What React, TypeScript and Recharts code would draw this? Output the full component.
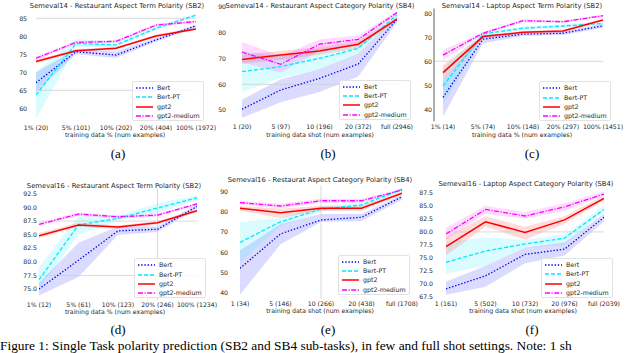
import { ComposedChart, Line, Area, XAxis, YAxis, ReferenceLine } from 'recharts'

const W = 640
const H = 353
const FONT = 'DejaVu Sans'
const FS = 6.2

const SERIES = [
  { key: 'bert', name: 'Bert', color: '#0000ff', dash: '1.4 1.8', width: 1.3 },
  { key: 'bertPt', name: 'Bert-PT', color: '#00e8ff', dash: '4 2', width: 1.3 },
  { key: 'gpt2', name: 'gpt2', color: '#ff0000', dash: undefined, width: 1.5 },
  { key: 'gpt2m', name: 'gpt2-medium', color: '#ff00ff', dash: '5 1.5 1.2 1.5', width: 1.3 },
]

// (a) Semeval14 restaurant term
const aTicks = ['1% (20)', '5% (101)', '10% (202)', '20% (404)', '100% (1972)']
const aBert = [67.1, 75.7, 74.8, 79.0, 82.9]
const aBertPt = [63.7, 78.0, 77.6, 82.2, 85.9]
const aGpt2 = [73.0, 76.0, 76.7, 80.1, 82.0]
const aGpt2m = [73.9, 78.3, 78.6, 83.1, 84.1]
const aBertBand = [[64.5, 70], [75, 76.5], [74, 75.8], [78.5, 79.5], [82.5, 83.3]]
const aBertPtBand = [[57, 70], [77, 79.3], [77, 78.3], [81.7, 82.7], [85.5, 86.3]]
const aGpt2Band = [[72.5, 73.5], [75.6, 76.4], [76.3, 77.1], [79.7, 80.5], [81.7, 82.3]]
const aGpt2mBand = [[73.4, 74.4], [77.9, 78.7], [78.2, 79], [82.7, 83.5], [83.7, 84.5]]

// (b) Semeval14 restaurant category
const bTicks = ['1 (20)', '5 (97)', '10 (196)', '20 (372)', 'full (2946)']
const bBert = [50.3, 57.8, 62.3, 67.9, 85.3]
const bBertPt = [64.9, 66.9, 70.1, 74.0, 87.0]
const bGpt2 = [69.7, 71.4, 73.0, 75.6, 85.4]
const bGpt2m = [72.5, 67.8, 75.6, 77.5, 87.9]
const bBertBand = [[47, 54], [53, 62], [57, 66], [63, 72], [84, 86.5]]
const bBertPtBand = [[57, 73], [62.5, 71], [66, 74], [72, 76], [86, 88]]
const bGpt2Band = [[68, 71.5], [69.5, 73], [71.5, 74.5], [74, 77], [84.8, 86]]
const bGpt2mBand = [[68.5, 76.5], [64.5, 71], [73, 77.5], [76, 79], [87.3, 88.5]]

// (c) Semeval14 laptop term
const cTicks = ['1% (14)', '5% (74)', '10% (148)', '20% (297)', '100% (1451)']
const cBert = [45.0, 69.2, 71.3, 71.7, 74.8]
const cBertPt = [49.7, 71.4, 73.8, 74.7, 75.8]
const cGpt2 = [55.3, 70.3, 72.1, 72.6, 77.2]
const cGpt2m = [62.6, 71.7, 76.9, 76.5, 79.0]
const cBertBand = [[37, 52], [67.5, 71], [70.5, 72], [71, 72.5], [74, 75.6]]
const cBertPtBand = [[42, 57], [70.5, 72.3], [73, 74.5], [74, 75.4], [75.3, 76.3]]
const cGpt2Band = [[52, 58.5], [69.5, 71], [71.5, 72.7], [72, 73.2], [76.7, 77.7]]
const cGpt2mBand = [[60.5, 64.7], [71.2, 72.2], [76.3, 77.5], [76, 77], [78.6, 79.4]]

// (d) Semeval16 restaurant term
const dTicks = ['1% (12)', '5% (61)', '10% (123)', '20% (246)', '100% (1234)']
const dBert = [75.0, 80.3, 85.7, 86.0, 90.2]
const dBertPt = [76.7, 86.8, 88.0, 89.9, 91.8]
const dGpt2 = [84.8, 86.8, 86.4, 87.2, 89.4]
const dGpt2m = [86.9, 88.8, 88.3, 88.6, 90.65]
const dBertBand = [[73.8, 76.2], [77.2, 83.5], [85, 86.5], [85.5, 86.5], [89.8, 90.6]]
const dBertPtBand = [[75, 79], [85, 88.5], [87.5, 88.5], [89, 90.8], [91.4, 92.2]]
const dGpt2Band = [[84.4, 85.3], [86.4, 87.2], [86.1, 86.7], [86.9, 87.5], [89.1, 89.7]]
const dGpt2mBand = [[86.6, 87.2], [88.5, 89.1], [88, 88.6], [88.3, 88.9], [90.4, 90.9]]

// (e) Semeval16 restaurant category
const eTicks = ['1 (34)', '5 (146)', '10 (266)', '20 (438)', 'full (1708)']
const eBert = [52.1, 69.1, 76.0, 77.3, 87.5]
const eBertPt = [64.9, 75.1, 81.3, 83.4, 91.2]
const eGpt2 = [81.8, 79.6, 81.8, 81.8, 89.2]
const eGpt2m = [84.6, 82.9, 85.5, 85.5, 90.8]
const eBertBand = [[39, 61], [64, 74], [75, 79], [75.5, 79], [86, 88.5]]
const eBertPtBand = [[55, 75], [73, 77], [80, 83], [82, 84.5], [90.5, 91.8]]
const eGpt2Band = [[80.5, 83], [77, 81.5], [80.5, 83], [80.5, 83], [88.5, 90]]
const eGpt2mBand = [[83.6, 85.6], [81.8, 84], [84.5, 86.5], [84.5, 86.5], [90.2, 91.4]]

// (f) Semeval16 laptop category
const fTicks = ['1 (161)', '5 (502)', '10 (732)', '20 (976)', 'full (2039)']
const fBert = [69.1, 71.6, 75.7, 76.7, 82.8]
const fBertPt = [74.2, 76.35, 77.7, 78.8, 84.3]
const fGpt2 = [77.2, 81.95, 79.9, 82.3, 86.4]
const fGpt2m = [79.6, 84.3, 83.05, 84.8, 87.25]
const fBertBand = [[68, 70.5], [69.5, 73.5], [74, 77], [75.5, 78], [82, 83.5]]
const fBertPtBand = [[72, 78], [73.5, 79], [77, 78.5], [77.5, 79.5], [84, 85]]
const fGpt2Band = [[75.5, 79], [81, 83], [78.5, 81], [81.5, 83], [86, 87]]
const fGpt2mBand = [[78.5, 80.8], [83.5, 85], [82.5, 83.8], [84, 85.5], [87, 87.8]]

const PCT = 'training data % (num examples)'
const SHOT = 'training data shot (num examples)'
const CAPTION =
  'Figure 1: Single Task polarity prediction (SB2 and SB4 sub-tasks), in few and full shot settings. Note: 1 sh'

const panels = [
  {
    title: 'Semeval14 - Restaurant Aspect Term Polarity (SB2)', titleX: 117, titleY: 6,
    xlabel: PCT, xlabelX: 115, xlabelY: 135, tag: '(a)', tagX: 118, tagY: 154,
    ticks: aTicks, vals: [aBert, aBertPt, aGpt2, aGpt2m], bands: [aBertBand, aBertPtBand, aGpt2Band, aGpt2mBand],
    left: 36, right: 196, top: 11.1, bottom: 122.7, xDomain: [0, 4], yDomain: [56, 87],
    yTicks: [60, 65, 70, 75, 80, 85], yLabelRight: 27, tickY: 128, dec: 0,
    hRefs: [85, 65], vRefs: [], spine: false, legX: 136, legY: 87,
  },
  {
    title: 'Semeval14 - Restaurant Aspect Category Polarity (SB4)', titleX: 320, titleY: 6,
    xlabel: SHOT, xlabelX: 320, xlabelY: 135, tag: '(b)', tagX: 328, tagY: 154,
    ticks: bTicks, vals: [bBert, bBertPt, bGpt2, bGpt2m], bands: [bBertBand, bBertPtBand, bGpt2Band, bGpt2mBand],
    left: 242, right: 397, top: 2.06, bottom: 120.3, xDomain: [0, 4], yDomain: [46, 92],
    yTicks: [50, 60, 70, 80, 90], yLabelRight: 226, tickY: 126.7, dec: 0,
    hRefs: [60], vRefs: [], spine: false, legX: 343, legY: 85.7,
  },
  {
    title: 'Semeval14 - Laptop Aspect Term Polarity (SB2)', titleX: 522, titleY: 6,
    xlabel: PCT, xlabelX: 522, xlabelY: 135, tag: '(c)', tagX: 532, tagY: 154,
    ticks: cTicks, vals: [cBert, cBertPt, cGpt2, cGpt2m], bands: [cBertBand, cBertPtBand, cGpt2Band, cGpt2mBand],
    left: 434, right: 603, top: 8.5, bottom: 121.3, xDomain: [-0.225, 4], yDomain: [35, 82],
    yTicks: [40, 50, 60, 70, 80], yLabelRight: 432, tickY: 126.7, dec: 0,
    hRefs: [60], vRefs: [], spine: true, legX: 543, legY: 87.3,
  },
  {
    title: 'Semeval16 - Restaurant Aspect Term Polarity (SB2)', titleX: 114, titleY: 185.7,
    xlabel: PCT, xlabelX: 115, xlabelY: 311.7, tag: '(d)', tagX: 118, tagY: 330,
    ticks: dTicks, vals: [dBert, dBertPt, dGpt2, dGpt2m], bands: [dBertBand, dBertPtBand, dGpt2Band, dGpt2mBand],
    left: 39, right: 197, top: 188.5, bottom: 299.9, xDomain: [0, 4], yDomain: [73, 93.5],
    yTicks: [75, 77.5, 80, 82.5, 85, 87.5, 90, 92.5], yLabelRight: 37, tickY: 305, dec: 1,
    hRefs: [87.5, 77.5], vRefs: [3], spine: false, legX: 138, legY: 264.3,
  },
  {
    title: 'Semeval16 - Restaurat Aspect Category Polarity (SB4)', titleX: 320, titleY: 180,
    xlabel: SHOT, xlabelX: 320, xlabelY: 310.7, tag: '(e)', tagX: 328, tagY: 330,
    ticks: eTicks, vals: [eBert, eBertPt, eGpt2, eGpt2m], bands: [eBertBand, eBertPtBand, eGpt2Band, eGpt2mBand],
    left: 240, right: 402, top: 185.6, bottom: 298.8, xDomain: [0, 4], yDomain: [37, 93],
    yTicks: [40, 50, 60, 70, 80, 90], yLabelRight: 228, tickY: 303.3, dec: 0,
    hRefs: [], vRefs: [2], spine: false, legX: 342, legY: 260.7,
  },
  {
    title: 'Semeval16 - Laptop Aspect Category Polarity (SB4)', titleX: 526, titleY: 184,
    xlabel: SHOT, xlabelX: 523, xlabelY: 311, tag: '(f)', tagX: 532, tagY: 330,
    ticks: fTicks, vals: [fBert, fBertPt, fGpt2, fGpt2m], bands: [fBertBand, fBertPtBand, fGpt2Band, fGpt2mBand],
    left: 446, right: 604, top: 187.5, bottom: 299.9, xDomain: [0, 4], yDomain: [67, 88.5],
    yTicks: [67.5, 70, 72.5, 75, 77.5, 80, 82.5, 85, 87.5], yLabelRight: 433, tickY: 304, dec: 1,
    hRefs: [80], vRefs: [], spine: false, legX: 545, legY: 264,
  },
]

type P = (typeof panels)[number]

function Panel({ p }: { p: P }) {
  const rows = p.ticks.map((t, i) => {
    const r: Record<string, unknown> = { i, label: t }
    SERIES.forEach((s, k) => {
      r[s.key] = p.vals[k][i]
      r[s.key + 'Band'] = p.bands[k][i]
    })
    return r
  })
  const yW = 30
  const xH = 12
  const margin = { top: p.top, bottom: H - p.bottom - xH, left: p.left - yW, right: W - p.right }
  const tickStyle = { fontSize: FS, fill: '#262626', fontFamily: FONT }
  return (
    <div style={{ position: 'absolute', left: 0, top: 0 }}>
      <ComposedChart width={W} height={H} data={rows} margin={margin}>
        <XAxis
          type="number"
          dataKey="i"
          domain={p.xDomain}
          ticks={[0, 1, 2, 3, 4]}
          interval={0}
          allowDataOverflow
          tickFormatter={(v: number) => p.ticks[v] ?? ''}
          axisLine={false}
          tickLine={false}
          tickSize={0}
          tickMargin={Math.max(0, p.tickY - p.bottom - 0.35 * FS)}
          height={xH}
          tick={tickStyle}
        />
        <YAxis
          type="number"
          domain={p.yDomain}
          ticks={p.yTicks}
          interval={0}
          allowDataOverflow
          tickFormatter={(v: number) => v.toFixed(p.dec)}
          axisLine={p.spine ? { stroke: '#333', strokeWidth: 0.8 } : false}
          tickLine={false}
          tickSize={0}
          tickMargin={p.left - p.yLabelRight}
          width={yW}
          tick={tickStyle}
        />
        {p.hRefs.map((v) => (
          <ReferenceLine key={'h' + v} y={v} stroke="#cfcfcf" strokeWidth={0.8} />
        ))}
        {p.vRefs.map((v) => (
          <ReferenceLine key={'v' + v} x={v} stroke="#cfcfcf" strokeWidth={0.8} />
        ))}
        {SERIES.map((s) => (
          <Area
            key={s.key + 'Band'}
            dataKey={s.key + 'Band'}
            type="linear"
            stroke="none"
            fill={s.color}
            fillOpacity={0.14}
            isAnimationActive={false}
          />
        ))}
        {SERIES.map((s) => (
          <Line
            key={s.key}
            dataKey={s.key}
            type="linear"
            stroke={s.color}
            strokeWidth={s.width}
            strokeDasharray={s.dash}
            dot={false}
            isAnimationActive={false}
          />
        ))}
      </ComposedChart>
    </div>
  )
}

function LegendBox({ x, y }: { x: number; y: number }) {
  const gap = 9.4
  return (
    <div
      style={{
        position: 'absolute',
        left: x - 4,
        top: y - 6,
        width: 72,
        height: gap * 3 + 12,
        border: '0.8px solid #e2e2e2',
        borderRadius: 2,
        background: 'rgba(255,255,255,0.8)',
        boxSizing: 'border-box',
      }}
    >
      {SERIES.map((s, k) => (
        <div key={s.key} style={{ position: 'absolute', left: 3, top: 6 + k * gap - 4, height: 8, display: 'flex', alignItems: 'center' }}>
          <svg width={17} height={8}>
            <line x1={0} y1={4} x2={17} y2={4} stroke={s.color} strokeWidth={s.width} strokeDasharray={s.dash} />
          </svg>
          <span style={{ marginLeft: 4, fontFamily: FONT, fontSize: 6.3, color: '#262626', lineHeight: '8px', whiteSpace: 'nowrap' }}>
            {s.name}
          </span>
        </div>
      ))}
    </div>
  )
}

function CenterText({ x, y, size, text, font, color }: { x: number; y: number; size: number; text: string; font: string; color: string }) {
  return (
    <div
      style={{
        position: 'absolute',
        left: x - 150,
        top: y - size * 0.6,
        width: 300,
        textAlign: 'center',
        fontFamily: font,
        fontSize: size,
        lineHeight: `${size * 1.2}px`,
        color,
        whiteSpace: 'nowrap',
      }}
    >
      {text}
    </div>
  )
}

export default function App() {
  return (
    <div style={{ position: 'absolute', left: 0, top: 0, width: W, height: H, overflow: 'hidden', background: '#fff' }}>
      {panels.map((p) => (
        <Panel key={p.tag} p={p} />
      ))}
      {panels.map((p) => (
        <LegendBox key={p.tag + 'leg'} x={p.legX} y={p.legY} />
      ))}
      {panels.map((p) => (
        <div key={p.tag + 'txt'}>
          <CenterText x={p.titleX} y={p.titleY} size={6.8} text={p.title} font={FONT} color="#262626" />
          <CenterText x={p.xlabelX} y={p.xlabelY} size={6.2} text={p.xlabel} font={FONT} color="#262626" />
          <CenterText x={p.tagX} y={p.tagY} size={13} text={p.tag} font="Liberation Serif" color="#000" />
        </div>
      ))}
      <div
        style={{
          position: 'absolute',
          left: 0,
          top: 338,
          fontFamily: 'Liberation Serif',
          fontSize: 13.4,
          lineHeight: '15px',
          whiteSpace: 'nowrap',
          color: '#000',
        }}
      >
        {CAPTION}
      </div>
    </div>
  )
}
